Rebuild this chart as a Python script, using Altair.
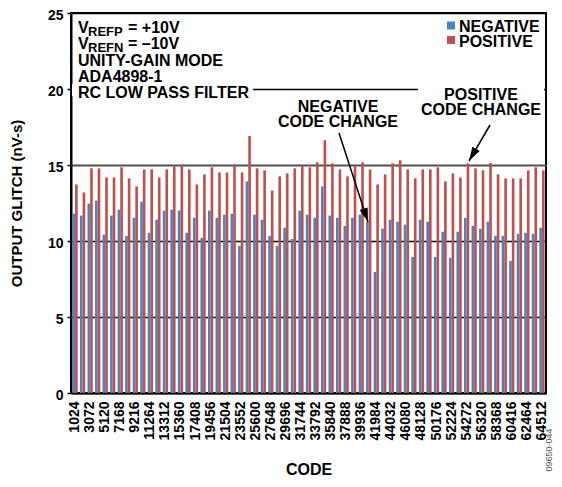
import altair as alt
import pandas as pd

FONT = "Liberation Sans"

codes = [1024 * i for i in range(1, 64)]
series_names = ["NEGATIVE", "POSITIVE"]
series_colors = ["#4F81BD", "#C0504D"]

negative = [11.8, 11.67, 12.46, 12.66, 10.41, 11.67, 12.06, 10.34, 11.53, 12.59,
            10.54, 11.4, 12.0, 12.06, 12.0, 10.54, 11.53, 10.21, 12.0, 11.53,
            11.73, 11.8, 9.68, 13.92, 11.73, 11.4, 10.34, 9.68, 10.87, 10.14,
            12.0, 11.73, 11.53, 13.59, 11.67, 11.53, 11.0, 11.53, 11.73, 11.27,
            7.96, 10.81, 11.4, 11.27, 11.07, 8.95, 11.4, 11.27, 8.95, 10.61,
            8.89, 10.61, 11.53, 11.0, 10.8, 11.27, 10.34, 10.34, 8.69, 10.47,
            10.54, 10.47, 10.87]
positive = [13.72, 13.19, 14.78, 14.78, 14.18, 14.18, 14.85, 14.12, 13.59, 14.71,
            14.71, 14.18, 14.71, 14.91, 15.04, 14.71, 13.72, 14.38, 14.85, 14.51,
            14.51, 15.04, 14.51, 16.9, 14.78, 14.65, 13.32, 14.25, 14.45, 14.78,
            14.91, 14.85, 15.18, 16.63, 15.11, 14.71, 14.25, 14.91, 15.18, 14.71,
            13.72, 14.38, 15.11, 15.31, 14.71, 14.12, 14.71, 14.71, 14.85, 13.92,
            14.45, 14.18, 15.11, 14.78, 14.65, 15.13, 14.38, 14.12, 14.12, 14.12,
            14.65, 14.85, 14.65]

y_ticks = [0, 5, 10, 15, 20, 25]
x_label_codes = codes[::2]

df = pd.DataFrame({
    "code": codes + codes,
    "series": [series_names[0]] * len(codes) + [series_names[1]] * len(codes),
    "value": negative + positive,
})

bars = alt.Chart(df).mark_bar().encode(
    x=alt.X("code:O", title="CODE",
            scale=alt.Scale(paddingInner=0.3, paddingOuter=0.19),
            axis=alt.Axis(values=x_label_codes, labelAngle=-90, labelFontSize=14,
                          labelFontWeight="bold", labelPadding=8, ticks=False,
                          domainColor="black", domainWidth=2, titleFontSize=16,
                          titleFontWeight="bold", titlePadding=22, labelOverlap=False,
                          grid=False, labelColor="black", titleColor="black")),
    xOffset=alt.XOffset("series:N", sort=series_names,
                        scale=alt.Scale(paddingInner=0, paddingOuter=0)),
    y=alt.Y("value:Q", title="OUTPUT GLITCH (nV-s)",
            scale=alt.Scale(domain=[0, 25], nice=False),
            axis=alt.Axis(values=y_ticks, labelFontSize=14, labelFontWeight="bold",
                          labelPadding=4, labelOffset=2, tickSize=4, tickColor="black",
                          tickWidth=1.5, domainColor="black", domainWidth=2,
                          titleFontSize=15, titleFontWeight="bold", titlePadding=23,
                          labelColor="black", titleColor="black", grid=True,
                          gridColor={"condition": {"test": "datum.value === 15", "value": "#505050"},
                                     "value": "#000000"},
                          gridWidth={"condition": {"test": "datum.value === 15", "value": 2.2},
                                     "value": 1.4},
                          gridOpacity=1)),
    color=alt.Color("series:N", sort=series_names,
                    scale=alt.Scale(domain=series_names, range=series_colors),
                    legend=None),
)


def one(t):
    return pd.DataFrame({"t": [t]})


def label(t, x, y, size=16, align="left", weight="bold", angle=0, color="black",
          baseline="alphabetic"):
    return alt.Chart(one(t)).mark_text(
        align=align, baseline=baseline, fontSize=size, fontWeight=weight,
        font=FONT, color=color, angle=angle
    ).encode(x=alt.value(x), y=alt.value(y), text="t:N")


def swatch(color, x, y):
    return alt.Chart(one("")).mark_square(size=64, color=color, opacity=1).encode(
        x=alt.value(x), y=alt.value(y))


def white_box(x1, x2, y1, y2):
    return alt.Chart(one("")).mark_rect(color="white").encode(
        x=alt.value(x1), x2=alt.value(x2), y=alt.value(y1), y2=alt.value(y2))


def shaft(x1, y1, x2, y2):
    return alt.Chart(one("")).mark_rule(color="black", strokeWidth=1.5).encode(
        x=alt.value(x1), y=alt.value(y1), x2=alt.value(x2), y2=alt.value(y2))


def head(x, y, angle):
    return alt.Chart(one("")).mark_point(
        shape="M0,0L-0.3,-1L0.3,-1Z", filled=True, size=784, angle=angle,
        color="black", opacity=1, strokeWidth=0
    ).encode(x=alt.value(x), y=alt.value(y))


layers = [
    bars,
    white_box(1, 182, 71, 83),
    white_box(347, 473, 71, 83),
    swatch(series_colors[0], 380, 12.5),
    label(series_names[0], 388, 18.7),
    swatch(series_colors[1], 380, 27),
    label(series_names[1], 388, 33.7),
    label("V", 7, 20),
    label("REFP", 17, 23, size=13),
    label("= +10V", 57, 20),
    label("V", 7, 36),
    label("REFN", 17, 39, size=13),
    label("= \u201310V", 57, 36),
    label("UNITY-GAIN MODE", 7, 53),
    label("ADA4898-1", 7, 69),
    label("RC LOW PASS FILTER", 7, 85),
    label("NEGATIVE", 267, 99, align="center"),
    label("CODE CHANGE", 267, 114, align="center"),
    label("POSITIVE", 410, 87, align="center"),
    label("CODE CHANGE", 410, 102, align="center"),
    shaft(268, 120, 297, 209),
    head(297, 209, 342),
    shaft(419, 112, 398, 148),
    head(398, 148, 30),
    label("09650-044", 477.5, 437, size=9, align="center", weight="normal",
          angle=270, color="#555555", baseline="middle"),
]

chart = alt.layer(*layers).properties(
    width=475, height=380,
    autosize=alt.AutoSizeParams(type="none"),
    padding={"left": 63, "top": 5, "right": 8, "bottom": 86},
).configure(font=FONT).configure_view(stroke="black", strokeWidth=2)

chart.save("out.html", embed_options={"renderer": "svg", "actions": False})
